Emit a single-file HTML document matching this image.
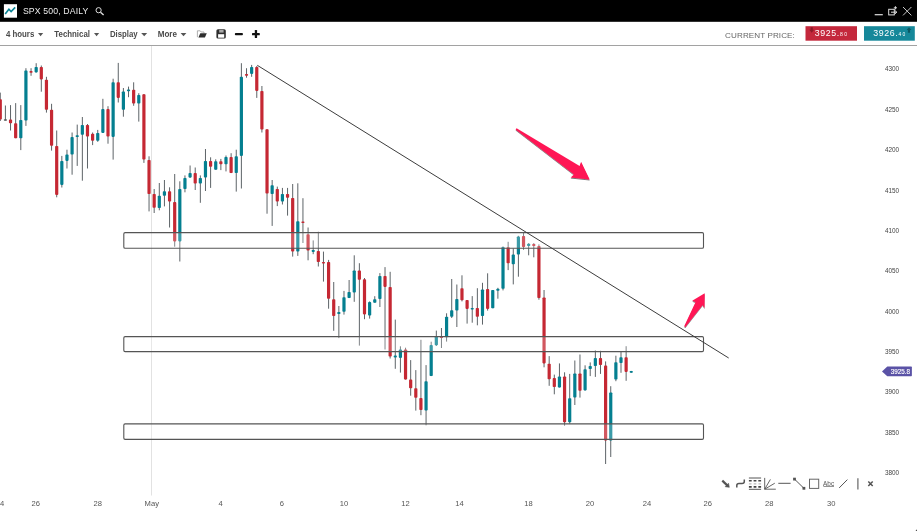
<!DOCTYPE html>
<html lang="en"><head><meta charset="utf-8"><title>SPX 500, DAILY</title>
<style>html,body{margin:0;padding:0;background:#fff;}body{width:917px;height:531px;overflow:hidden;font-family:"Liberation Sans",sans-serif;}svg{display:block;}text{font-family:"Liberation Sans",sans-serif;}</style></head><body>
<svg width="917" height="531" viewBox="0 0 917 531">
<defs><filter id="sh" x="-20%" y="-20%" width="140%" height="140%"><feDropShadow dx="0" dy="1" stdDeviation="0.5" flood-color="#000" flood-opacity="0.55"/></filter></defs>
<rect x="0" y="0" width="917" height="531" fill="#fff"/>
<rect x="151" y="46" width="1" height="449.5" fill="#e2e2e2"/>
<g>
<rect x="-0.23" y="92.6" width="1" height="28.4" fill="#5e6468"/>
<rect x="-1.33" y="99.2" width="3.2" height="20.4" rx="0.8" fill="#c52833"/>
<rect x="4.90" y="105.5" width="1" height="14.8" fill="#5e6468"/>
<rect x="3.80" y="119.3" width="3.2" height="1.4" rx="0.8" fill="#555"/>
<rect x="10.03" y="105.1" width="1" height="25.4" fill="#5e6468"/>
<rect x="8.93" y="119.6" width="3.2" height="3.7" rx="0.8" fill="#c52833"/>
<rect x="15.16" y="103.1" width="1" height="35.1" fill="#5e6468"/>
<rect x="14.06" y="123.3" width="3.2" height="14.9" rx="0.8" fill="#c52833"/>
<rect x="20.29" y="105.1" width="1" height="45.0" fill="#5e6468"/>
<rect x="19.19" y="120.0" width="3.2" height="18.2" rx="0.8" fill="#047f90"/>
<rect x="25.42" y="68.2" width="1" height="57.7" fill="#5e6468"/>
<rect x="24.32" y="70.6" width="3.2" height="50.0" rx="0.8" fill="#047f90"/>
<rect x="30.55" y="68.2" width="1" height="7.6" fill="#5e6468"/>
<rect x="29.45" y="71.1" width="3.2" height="1.7" rx="0.8" fill="#c52833"/>
<rect x="35.68" y="63.2" width="1" height="9.2" fill="#5e6468"/>
<rect x="34.58" y="66.9" width="3.2" height="5.5" rx="0.8" fill="#047f90"/>
<rect x="40.81" y="65.5" width="1" height="26.2" fill="#5e6468"/>
<rect x="39.71" y="66.9" width="3.2" height="12.5" rx="0.8" fill="#c52833"/>
<rect x="45.94" y="76.8" width="1" height="35.8" fill="#5e6468"/>
<rect x="44.84" y="79.8" width="3.2" height="30.0" rx="0.8" fill="#c52833"/>
<rect x="51.07" y="103.8" width="1" height="46.8" fill="#5e6468"/>
<rect x="49.97" y="109.7" width="3.2" height="36.0" rx="0.8" fill="#c52833"/>
<rect x="56.20" y="130.5" width="1" height="66.8" fill="#5e6468"/>
<rect x="55.10" y="146.0" width="3.2" height="48.9" rx="0.8" fill="#c52833"/>
<rect x="61.33" y="155.9" width="1" height="31.6" fill="#5e6468"/>
<rect x="60.23" y="160.9" width="3.2" height="24.0" rx="0.8" fill="#047f90"/>
<rect x="66.46" y="149.7" width="1" height="18.8" fill="#5e6468"/>
<rect x="65.36" y="154.6" width="3.2" height="6.3" rx="0.8" fill="#047f90"/>
<rect x="71.59" y="132.5" width="1" height="42.2" fill="#5e6468"/>
<rect x="70.49" y="137.1" width="3.2" height="17.5" rx="0.8" fill="#047f90"/>
<rect x="76.72" y="124.6" width="1" height="41.3" fill="#5e6468"/>
<rect x="75.62" y="135.2" width="3.2" height="1.9" rx="0.8" fill="#047f90"/>
<rect x="81.85" y="117.0" width="1" height="63.7" fill="#5e6468"/>
<rect x="80.75" y="125.0" width="3.2" height="9.8" rx="0.8" fill="#047f90"/>
<rect x="86.98" y="124.0" width="1" height="44.5" fill="#5e6468"/>
<rect x="85.88" y="125.0" width="3.2" height="11.5" rx="0.8" fill="#c52833"/>
<rect x="92.11" y="132.5" width="1" height="12.6" fill="#5e6468"/>
<rect x="91.01" y="133.8" width="3.2" height="7.0" rx="0.8" fill="#c52833"/>
<rect x="97.24" y="129.9" width="1" height="11.9" fill="#5e6468"/>
<rect x="96.14" y="132.9" width="3.2" height="7.9" rx="0.8" fill="#047f90"/>
<rect x="102.37" y="98.8" width="1" height="34.1" fill="#5e6468"/>
<rect x="101.27" y="109.1" width="3.2" height="23.8" rx="0.8" fill="#047f90"/>
<rect x="107.50" y="106.2" width="1" height="37.5" fill="#5e6468"/>
<rect x="106.40" y="109.1" width="3.2" height="27.4" rx="0.8" fill="#c52833"/>
<rect x="112.63" y="78.7" width="1" height="80.9" fill="#5e6468"/>
<rect x="111.53" y="82.3" width="3.2" height="54.6" rx="0.8" fill="#047f90"/>
<rect x="117.76" y="62.9" width="1" height="39.6" fill="#5e6468"/>
<rect x="116.66" y="82.3" width="3.2" height="15.6" rx="0.8" fill="#c52833"/>
<rect x="122.89" y="88.0" width="1" height="28.7" fill="#5e6468"/>
<rect x="121.79" y="91.5" width="3.2" height="18.2" rx="0.8" fill="#047f90"/>
<rect x="128.02" y="86.6" width="1" height="10.6" fill="#5e6468"/>
<rect x="126.92" y="89.5" width="3.2" height="1.8" rx="0.8" fill="#047f90"/>
<rect x="133.15" y="82.3" width="1" height="23.5" fill="#5e6468"/>
<rect x="132.05" y="89.7" width="3.2" height="13.8" rx="0.8" fill="#c52833"/>
<rect x="138.28" y="93.2" width="1" height="28.4" fill="#5e6468"/>
<rect x="137.18" y="95.0" width="3.2" height="8.5" rx="0.8" fill="#047f90"/>
<rect x="143.41" y="94.0" width="1" height="68.9" fill="#5e6468"/>
<rect x="142.31" y="94.3" width="3.2" height="65.3" rx="0.8" fill="#c52833"/>
<rect x="148.54" y="156.3" width="1" height="55.1" fill="#5e6468"/>
<rect x="147.44" y="160.0" width="3.2" height="34.0" rx="0.8" fill="#c52833"/>
<rect x="153.67" y="189.0" width="1" height="24.0" fill="#5e6468"/>
<rect x="152.57" y="194.0" width="3.2" height="13.7" rx="0.8" fill="#c52833"/>
<rect x="158.80" y="183.0" width="1" height="27.3" fill="#5e6468"/>
<rect x="157.70" y="195.8" width="3.2" height="12.3" rx="0.8" fill="#047f90"/>
<rect x="163.93" y="180.0" width="1" height="26.4" fill="#5e6468"/>
<rect x="162.83" y="191.2" width="3.2" height="4.6" rx="0.8" fill="#047f90"/>
<rect x="169.06" y="187.3" width="1" height="40.2" fill="#5e6468"/>
<rect x="167.96" y="191.2" width="3.2" height="10.3" rx="0.8" fill="#c52833"/>
<rect x="174.19" y="174.0" width="1" height="72.7" fill="#5e6468"/>
<rect x="173.09" y="202.1" width="3.2" height="39.3" rx="0.8" fill="#c52833"/>
<rect x="179.32" y="181.3" width="1" height="80.2" fill="#5e6468"/>
<rect x="178.22" y="189.0" width="3.2" height="52.4" rx="0.8" fill="#047f90"/>
<rect x="184.45" y="175.4" width="1" height="16.9" fill="#5e6468"/>
<rect x="183.35" y="178.0" width="3.2" height="11.0" rx="0.8" fill="#047f90"/>
<rect x="189.58" y="165.5" width="1" height="12.5" fill="#5e6468"/>
<rect x="188.48" y="173.1" width="3.2" height="4.5" rx="0.8" fill="#047f90"/>
<rect x="194.71" y="167.5" width="1" height="22.5" fill="#5e6468"/>
<rect x="193.61" y="173.1" width="3.2" height="10.5" rx="0.8" fill="#c52833"/>
<rect x="199.84" y="175.4" width="1" height="27.4" fill="#5e6468"/>
<rect x="198.74" y="178.0" width="3.2" height="5.6" rx="0.8" fill="#047f90"/>
<rect x="204.97" y="149.0" width="1" height="42.0" fill="#5e6468"/>
<rect x="203.87" y="160.9" width="3.2" height="16.7" rx="0.8" fill="#047f90"/>
<rect x="210.10" y="157.3" width="1" height="30.6" fill="#5e6468"/>
<rect x="209.00" y="160.9" width="3.2" height="5.9" rx="0.8" fill="#c52833"/>
<rect x="215.23" y="159.3" width="1" height="10.4" fill="#5e6468"/>
<rect x="214.13" y="161.3" width="3.2" height="8.4" rx="0.8" fill="#047f90"/>
<rect x="220.36" y="158.9" width="1" height="11.2" fill="#5e6468"/>
<rect x="219.26" y="161.3" width="3.2" height="2.9" rx="0.8" fill="#c52833"/>
<rect x="225.49" y="155.5" width="1" height="15.9" fill="#5e6468"/>
<rect x="224.39" y="156.9" width="3.2" height="7.3" rx="0.8" fill="#047f90"/>
<rect x="230.62" y="153.2" width="1" height="19.9" fill="#5e6468"/>
<rect x="229.52" y="156.9" width="3.2" height="16.2" rx="0.8" fill="#c52833"/>
<rect x="235.75" y="149.7" width="1" height="41.9" fill="#5e6468"/>
<rect x="234.65" y="156.3" width="3.2" height="16.8" rx="0.8" fill="#047f90"/>
<rect x="240.88" y="63.2" width="1" height="125.3" fill="#5e6468"/>
<rect x="239.78" y="76.8" width="3.2" height="79.1" rx="0.8" fill="#047f90"/>
<rect x="246.01" y="68.2" width="1" height="9.5" fill="#5e6468"/>
<rect x="244.91" y="74.1" width="3.2" height="1.7" rx="0.8" fill="#c52833"/>
<rect x="251.14" y="64.9" width="1" height="11.9" fill="#5e6468"/>
<rect x="250.04" y="66.9" width="3.2" height="7.0" rx="0.8" fill="#047f90"/>
<rect x="256.27" y="66.0" width="1" height="31.9" fill="#5e6468"/>
<rect x="255.17" y="66.9" width="3.2" height="24.0" rx="0.8" fill="#c52833"/>
<rect x="261.40" y="86.0" width="1" height="46.5" fill="#5e6468"/>
<rect x="260.30" y="90.9" width="3.2" height="38.6" rx="0.8" fill="#c52833"/>
<rect x="266.53" y="129.2" width="1" height="84.5" fill="#5e6468"/>
<rect x="265.43" y="129.2" width="3.2" height="64.4" rx="0.8" fill="#c52833"/>
<rect x="271.66" y="180.0" width="1" height="45.9" fill="#5e6468"/>
<rect x="270.56" y="185.3" width="3.2" height="8.7" rx="0.8" fill="#047f90"/>
<rect x="276.79" y="186.6" width="1" height="19.5" fill="#5e6468"/>
<rect x="275.69" y="189.0" width="3.2" height="12.5" rx="0.8" fill="#c52833"/>
<rect x="281.92" y="187.9" width="1" height="16.6" fill="#5e6468"/>
<rect x="280.82" y="194.0" width="3.2" height="7.5" rx="0.8" fill="#047f90"/>
<rect x="287.05" y="187.9" width="1" height="27.7" fill="#5e6468"/>
<rect x="285.95" y="194.0" width="3.2" height="3.8" rx="0.8" fill="#c52833"/>
<rect x="292.18" y="184.0" width="1" height="72.6" fill="#5e6468"/>
<rect x="291.08" y="197.9" width="3.2" height="53.7" rx="0.8" fill="#c52833"/>
<rect x="297.31" y="183.3" width="1" height="72.6" fill="#5e6468"/>
<rect x="296.21" y="221.3" width="3.2" height="30.3" rx="0.8" fill="#047f90"/>
<rect x="302.44" y="198.2" width="1" height="44.8" fill="#5e6468"/>
<rect x="301.34" y="221.5" width="3.2" height="1.4" rx="0.8" fill="#c52833"/>
<rect x="307.57" y="227.5" width="1" height="32.8" fill="#5e6468"/>
<rect x="306.47" y="234.2" width="3.2" height="16.3" rx="0.8" fill="#c52833"/>
<rect x="312.70" y="240.4" width="1" height="13.8" fill="#5e6468"/>
<rect x="311.60" y="250.0" width="3.2" height="1.9" rx="0.8" fill="#047f90"/>
<rect x="317.83" y="231.8" width="1" height="34.7" fill="#5e6468"/>
<rect x="316.73" y="250.9" width="3.2" height="11.2" rx="0.8" fill="#c52833"/>
<rect x="322.96" y="251.6" width="1" height="30.0" fill="#5e6468"/>
<rect x="321.86" y="261.9" width="3.2" height="1.7" rx="0.8" fill="#c52833"/>
<rect x="328.09" y="259.9" width="1" height="48.8" fill="#5e6468"/>
<rect x="326.99" y="261.9" width="3.2" height="36.9" rx="0.8" fill="#c52833"/>
<rect x="333.22" y="282.0" width="1" height="48.8" fill="#5e6468"/>
<rect x="332.12" y="299.2" width="3.2" height="16.8" rx="0.8" fill="#c52833"/>
<rect x="338.35" y="306.0" width="1" height="32.1" fill="#5e6468"/>
<rect x="337.25" y="312.0" width="3.2" height="2.0" rx="0.8" fill="#047f90"/>
<rect x="343.48" y="290.9" width="1" height="23.7" fill="#5e6468"/>
<rect x="342.38" y="297.2" width="3.2" height="14.5" rx="0.8" fill="#047f90"/>
<rect x="348.61" y="280.0" width="1" height="18.1" fill="#5e6468"/>
<rect x="347.51" y="291.9" width="3.2" height="6.2" rx="0.8" fill="#047f90"/>
<rect x="353.74" y="255.3" width="1" height="46.5" fill="#5e6468"/>
<rect x="352.64" y="270.4" width="3.2" height="22.1" rx="0.8" fill="#047f90"/>
<rect x="358.87" y="263.2" width="1" height="82.4" fill="#5e6468"/>
<rect x="357.77" y="270.4" width="3.2" height="9.3" rx="0.8" fill="#c52833"/>
<rect x="364.00" y="278.0" width="1" height="41.2" fill="#5e6468"/>
<rect x="362.90" y="279.3" width="3.2" height="35.1" rx="0.8" fill="#c52833"/>
<rect x="369.13" y="301.4" width="1" height="17.2" fill="#5e6468"/>
<rect x="368.03" y="302.1" width="3.2" height="13.4" rx="0.8" fill="#047f90"/>
<rect x="374.26" y="296.2" width="1" height="6.5" fill="#5e6468"/>
<rect x="373.16" y="299.2" width="3.2" height="3.5" rx="0.8" fill="#047f90"/>
<rect x="379.39" y="273.1" width="1" height="33.9" fill="#5e6468"/>
<rect x="378.29" y="276.0" width="3.2" height="23.0" rx="0.8" fill="#047f90"/>
<rect x="384.52" y="267.1" width="1" height="82.4" fill="#5e6468"/>
<rect x="383.42" y="276.0" width="3.2" height="10.9" rx="0.8" fill="#c52833"/>
<rect x="389.65" y="271.8" width="1" height="86.7" fill="#5e6468"/>
<rect x="388.55" y="286.9" width="3.2" height="69.6" rx="0.8" fill="#c52833"/>
<rect x="394.78" y="319.6" width="1" height="49.2" fill="#5e6468"/>
<rect x="393.68" y="355.6" width="3.2" height="1.9" rx="0.8" fill="#047f90"/>
<rect x="399.91" y="346.3" width="1" height="26.3" fill="#5e6468"/>
<rect x="398.81" y="349.5" width="3.2" height="8.4" rx="0.8" fill="#047f90"/>
<rect x="405.04" y="347.7" width="1" height="31.9" fill="#5e6468"/>
<rect x="403.94" y="349.5" width="3.2" height="30.1" rx="0.8" fill="#c52833"/>
<rect x="410.17" y="360.1" width="1" height="35.6" fill="#5e6468"/>
<rect x="409.07" y="379.6" width="3.2" height="8.6" rx="0.8" fill="#c52833"/>
<rect x="415.30" y="370.1" width="1" height="40.5" fill="#5e6468"/>
<rect x="414.20" y="388.2" width="3.2" height="9.5" rx="0.8" fill="#c52833"/>
<rect x="420.43" y="339.8" width="1" height="75.4" fill="#5e6468"/>
<rect x="419.33" y="398.1" width="3.2" height="11.9" rx="0.8" fill="#c52833"/>
<rect x="425.56" y="365.1" width="1" height="60.2" fill="#5e6468"/>
<rect x="424.46" y="381.3" width="3.2" height="29.3" rx="0.8" fill="#047f90"/>
<rect x="430.69" y="341.7" width="1" height="34.4" fill="#5e6468"/>
<rect x="429.59" y="345.1" width="3.2" height="31.0" rx="0.8" fill="#047f90"/>
<rect x="435.82" y="330.6" width="1" height="15.4" fill="#5e6468"/>
<rect x="434.72" y="336.4" width="3.2" height="8.8" rx="0.8" fill="#047f90"/>
<rect x="440.95" y="328.0" width="1" height="20.0" fill="#5e6468"/>
<rect x="439.85" y="336.5" width="3.2" height="1.4" rx="0.8" fill="#c52833"/>
<rect x="446.08" y="313.3" width="1" height="28.3" fill="#5e6468"/>
<rect x="444.98" y="316.8" width="3.2" height="20.5" rx="0.8" fill="#047f90"/>
<rect x="451.21" y="279.0" width="1" height="39.0" fill="#5e6468"/>
<rect x="450.11" y="310.2" width="3.2" height="6.6" rx="0.8" fill="#047f90"/>
<rect x="456.34" y="284.5" width="1" height="42.5" fill="#5e6468"/>
<rect x="455.24" y="299.0" width="3.2" height="11.6" rx="0.8" fill="#047f90"/>
<rect x="461.47" y="275.3" width="1" height="26.1" fill="#5e6468"/>
<rect x="460.37" y="288.2" width="3.2" height="12.1" rx="0.8" fill="#c52833"/>
<rect x="466.60" y="300.1" width="1" height="23.5" fill="#5e6468"/>
<rect x="465.50" y="300.1" width="3.2" height="8.8" rx="0.8" fill="#c52833"/>
<rect x="471.73" y="296.1" width="1" height="26.6" fill="#5e6468"/>
<rect x="470.63" y="308.0" width="3.2" height="1.6" rx="0.8" fill="#047f90"/>
<rect x="476.86" y="288.2" width="1" height="37.1" fill="#5e6468"/>
<rect x="475.76" y="308.0" width="3.2" height="8.7" rx="0.8" fill="#c52833"/>
<rect x="481.99" y="282.8" width="1" height="41.8" fill="#5e6468"/>
<rect x="480.89" y="289.5" width="3.2" height="26.5" rx="0.8" fill="#047f90"/>
<rect x="487.12" y="273.3" width="1" height="37.3" fill="#5e6468"/>
<rect x="486.02" y="289.1" width="3.2" height="19.8" rx="0.8" fill="#c52833"/>
<rect x="492.25" y="290.0" width="1" height="18.2" fill="#5e6468"/>
<rect x="491.15" y="290.0" width="3.2" height="18.2" rx="0.8" fill="#047f90"/>
<rect x="497.38" y="287.8" width="1" height="10.9" fill="#5e6468"/>
<rect x="496.28" y="288.7" width="3.2" height="2.0" rx="0.8" fill="#047f90"/>
<rect x="502.51" y="246.4" width="1" height="44.0" fill="#5e6468"/>
<rect x="501.41" y="247.0" width="3.2" height="41.7" rx="0.8" fill="#047f90"/>
<rect x="507.64" y="241.8" width="1" height="28.3" fill="#5e6468"/>
<rect x="506.54" y="247.3" width="3.2" height="16.0" rx="0.8" fill="#c52833"/>
<rect x="512.77" y="248.4" width="1" height="36.0" fill="#5e6468"/>
<rect x="511.67" y="254.6" width="3.2" height="9.6" rx="0.8" fill="#047f90"/>
<rect x="517.90" y="235.8" width="1" height="40.9" fill="#5e6468"/>
<rect x="516.80" y="236.5" width="3.2" height="18.1" rx="0.8" fill="#047f90"/>
<rect x="523.03" y="232.5" width="1" height="17.2" fill="#5e6468"/>
<rect x="521.93" y="236.1" width="3.2" height="10.9" rx="0.8" fill="#c52833"/>
<rect x="528.16" y="243.1" width="1" height="12.2" fill="#5e6468"/>
<rect x="527.06" y="243.7" width="3.2" height="2.4" rx="0.8" fill="#047f90"/>
<rect x="533.29" y="243.1" width="1" height="14.2" fill="#5e6468"/>
<rect x="532.19" y="244.0" width="3.2" height="2.0" rx="0.8" fill="#c52833"/>
<rect x="538.42" y="244.4" width="1" height="55.3" fill="#5e6468"/>
<rect x="537.32" y="246.1" width="3.2" height="51.9" rx="0.8" fill="#c52833"/>
<rect x="543.55" y="290.0" width="1" height="77.3" fill="#5e6468"/>
<rect x="542.45" y="297.4" width="3.2" height="66.0" rx="0.8" fill="#c52833"/>
<rect x="548.68" y="356.1" width="1" height="29.7" fill="#5e6468"/>
<rect x="547.58" y="363.7" width="3.2" height="15.5" rx="0.8" fill="#c52833"/>
<rect x="553.81" y="374.6" width="1" height="19.7" fill="#5e6468"/>
<rect x="552.71" y="377.9" width="3.2" height="9.2" rx="0.8" fill="#c52833"/>
<rect x="558.94" y="363.4" width="1" height="24.1" fill="#5e6468"/>
<rect x="557.84" y="376.5" width="3.2" height="11.0" rx="0.8" fill="#047f90"/>
<rect x="564.07" y="372.3" width="1" height="53.4" fill="#5e6468"/>
<rect x="562.97" y="376.5" width="3.2" height="45.7" rx="0.8" fill="#c52833"/>
<rect x="569.20" y="373.9" width="1" height="49.8" fill="#5e6468"/>
<rect x="568.10" y="398.3" width="3.2" height="23.9" rx="0.8" fill="#047f90"/>
<rect x="574.33" y="360.5" width="1" height="44.5" fill="#5e6468"/>
<rect x="573.23" y="373.5" width="3.2" height="24.1" rx="0.8" fill="#047f90"/>
<rect x="579.46" y="354.5" width="1" height="43.1" fill="#5e6468"/>
<rect x="578.36" y="373.5" width="3.2" height="17.2" rx="0.8" fill="#c52833"/>
<rect x="584.59" y="365.3" width="1" height="25.1" fill="#5e6468"/>
<rect x="583.49" y="369.3" width="3.2" height="21.1" rx="0.8" fill="#047f90"/>
<rect x="589.72" y="362.4" width="1" height="13.7" fill="#5e6468"/>
<rect x="588.62" y="366.0" width="3.2" height="3.0" rx="0.8" fill="#047f90"/>
<rect x="594.85" y="350.4" width="1" height="26.5" fill="#5e6468"/>
<rect x="593.75" y="358.1" width="3.2" height="7.9" rx="0.8" fill="#047f90"/>
<rect x="599.98" y="350.8" width="1" height="23.1" fill="#5e6468"/>
<rect x="598.88" y="358.1" width="3.2" height="7.0" rx="0.8" fill="#c52833"/>
<rect x="605.11" y="361.4" width="1" height="102.6" fill="#5e6468"/>
<rect x="604.01" y="365.6" width="3.2" height="75.0" rx="0.8" fill="#c52833"/>
<rect x="610.24" y="386.2" width="1" height="70.8" fill="#5e6468"/>
<rect x="609.14" y="392.4" width="3.2" height="48.2" rx="0.8" fill="#047f90"/>
<rect x="615.37" y="355.7" width="1" height="25.5" fill="#5e6468"/>
<rect x="614.27" y="362.3" width="3.2" height="17.3" rx="0.8" fill="#047f90"/>
<rect x="620.50" y="351.5" width="1" height="21.3" fill="#5e6468"/>
<rect x="619.40" y="357.2" width="3.2" height="5.8" rx="0.8" fill="#047f90"/>
<rect x="625.63" y="346.2" width="1" height="34.6" fill="#5e6468"/>
<rect x="624.53" y="357.2" width="3.2" height="14.7" rx="0.8" fill="#c52833"/>
<rect x="630.76" y="370.9" width="1" height="1.9" fill="#5e6468"/>
<rect x="629.66" y="370.9" width="3.2" height="1.9" rx="0.8" fill="#047f90"/>
</g>
<rect x="123.8" y="232.6" width="579.7" height="15.7" rx="1.3" fill="#fff" fill-opacity="0.22" stroke="#555" stroke-width="1.1"/>
<rect x="123.8" y="336.6" width="579.7" height="15.0" rx="1.3" fill="#fff" fill-opacity="0.22" stroke="#555" stroke-width="1.1"/>
<rect x="123.8" y="423.9" width="579.7" height="15.5" rx="1.3" fill="#fff" fill-opacity="0.22" stroke="#555" stroke-width="1.1"/>
<line x1="257.3" y1="65.3" x2="728.7" y2="358" stroke="#3c3c3c" stroke-width="1"/>
<g filter="url(#sh)" fill="#ff1654">
<polygon points="516.6,128.2 579.6,165.9 581.1,161.8 589.7,179.4 570.6,177.4 574,174.6 515.6,129.4"/>
<polygon points="684.2,326.2 695.6,301.9 692.2,300.7 704.7,293.2 704.5,308 702.6,305 685.4,326.9"/>
</g>
<text x="892" y="71.4" font-size="6.4" fill="#444" text-anchor="middle">4300</text>
<text x="892" y="111.8" font-size="6.4" fill="#444" text-anchor="middle">4250</text>
<text x="892" y="152.1" font-size="6.4" fill="#444" text-anchor="middle">4200</text>
<text x="892" y="192.5" font-size="6.4" fill="#444" text-anchor="middle">4150</text>
<text x="892" y="232.8" font-size="6.4" fill="#444" text-anchor="middle">4100</text>
<text x="892" y="273.2" font-size="6.4" fill="#444" text-anchor="middle">4050</text>
<text x="892" y="313.5" font-size="6.4" fill="#444" text-anchor="middle">4000</text>
<text x="892" y="353.9" font-size="6.4" fill="#444" text-anchor="middle">3950</text>
<text x="892" y="394.2" font-size="6.4" fill="#444" text-anchor="middle">3900</text>
<text x="892" y="434.6" font-size="6.4" fill="#444" text-anchor="middle">3850</text>
<text x="892" y="474.9" font-size="6.4" fill="#444" text-anchor="middle">3800</text>
<path d="M882 371.4 L887.3 366.6 H911.2 Q911.9 366.6 911.9 367.3 V375.6 Q911.9 376.3 911.2 376.3 H887.3 Z" fill="#5a52a6"/>
<text x="900.4" y="373.7" font-size="6.3" fill="#fff" text-anchor="middle" stroke="#fff" stroke-width="0.15">3925.8</text>
<text x="0" y="505.5" font-size="7.6" fill="#555" text-anchor="middle">24</text>
<text x="35.7" y="505.5" font-size="7.6" fill="#555" text-anchor="middle">26</text>
<text x="97.8" y="505.5" font-size="7.6" fill="#555" text-anchor="middle">28</text>
<text x="151.8" y="505.5" font-size="7.6" fill="#555" text-anchor="middle">May</text>
<text x="220.7" y="505.5" font-size="7.6" fill="#555" text-anchor="middle">4</text>
<text x="281.9" y="505.5" font-size="7.6" fill="#555" text-anchor="middle">6</text>
<text x="344.1" y="505.5" font-size="7.6" fill="#555" text-anchor="middle">10</text>
<text x="405.6" y="505.5" font-size="7.6" fill="#555" text-anchor="middle">12</text>
<text x="459.5" y="505.5" font-size="7.6" fill="#555" text-anchor="middle">14</text>
<text x="528.5" y="505.5" font-size="7.6" fill="#555" text-anchor="middle">18</text>
<text x="589.9" y="505.5" font-size="7.6" fill="#555" text-anchor="middle">20</text>
<text x="646.9" y="505.5" font-size="7.6" fill="#555" text-anchor="middle">24</text>
<text x="707.8" y="505.5" font-size="7.6" fill="#555" text-anchor="middle">26</text>
<text x="769.3" y="505.5" font-size="7.6" fill="#555" text-anchor="middle">28</text>
<text x="831.3" y="505.5" font-size="7.6" fill="#555" text-anchor="middle">30</text>
<g stroke="#555" fill="none" stroke-width="1">
<path d="M722.3 480.6 L727.5 485.6" stroke-width="2.2"/><path d="M729.3 487.3 L725.2 486.7 L728.5 483.3 Z" fill="#555" stroke-width="0.6"/>
<path d="M736.8 487.6 V485.4 Q736.8 483.4 739 483.4 H742 Q744.3 483.4 744.3 481.4 V479.4" stroke-width="1.5"/>
<path d="M748.9 478 H761.1 M748.9 489.3 H761.1" stroke-width="1"/>
<path d="M748.9 480.7 H761.1 M748.9 486.9 H761.1" stroke="#444" stroke-width="1.6" stroke-dasharray="2.8 1.9"/>
<path d="M748.9 483.8 H761.1" stroke="#bbb" stroke-width="1.3" stroke-dasharray="2.6 2.2"/>
<path d="M764.7 477.9 V489.2 H775.8 M764.7 489.2 L770.4 479.4 M764.7 489.2 L774.8 483.2" stroke-width="0.9"/>
<path d="M778.3 483.3 H790.6"/>
<path d="M794.6 479.2 L803.8 488.2"/><rect x="793.1" y="477.7" width="2.8" height="2.8" fill="#555" stroke="none"/><rect x="802.5" y="486.9" width="2.8" height="2.8" fill="#555" stroke="none"/>
<rect x="809.5" y="479.2" width="9.2" height="9.2" stroke="#666"/>
<path d="M839.2 487.9 L847.4 479.6"/>
<path d="M857.9 478.3 V489.6" stroke="#666" stroke-width="1.2"/>
<path d="M868.3 481.5 L872.7 486 M872.7 481.5 L868.3 486" stroke-width="1.5"/>
</g>
<text x="828.6" y="485.6" font-size="6.4" fill="#555" text-anchor="middle">Abc</text>
<rect x="823.4" y="486.2" width="10.6" height="0.7" fill="#666"/>
<rect x="0" y="0" width="917" height="21.8" fill="#000"/>
<rect x="3.9" y="4.2" width="13.1" height="13.5" fill="#fff"/>
<path d="M5.2 13.9 L8.9 9.2 L11.1 11.5 L15.2 7.4" fill="none" stroke="#0a8496" stroke-width="1.6"/>
<text x="22.9" y="13.8" font-size="8.7" fill="#ececec" textLength="65.5" lengthAdjust="spacing">SPX 500, DAILY</text>
<circle cx="98.6" cy="10.2" r="2.6" fill="none" stroke="#ddd" stroke-width="1"/><path d="M100.5 12.2 L103.6 15" stroke="#ddd" stroke-width="1.4"/>
<rect x="874.7" y="14.1" width="8.1" height="1.2" fill="#ddd"/>
<g stroke="#ddd" fill="none" stroke-width="1"><rect x="888.7" y="9.3" width="5.6" height="5.6"/><path d="M891 12.2 H896.8 M894.8 10.4 L896.8 12.2 L894.8 14"/><path d="M895.4 6.2 V9.4 M893.8 7.8 H897"/></g>
<path d="M903 7 L911.4 15.4 M911.4 7 L903 15.4" stroke="#dcdcdc" stroke-width="0.9" fill="none"/>
<rect x="0" y="45" width="917" height="1" fill="#a2a2a2"/>
<text x="5.9" y="36.9" font-size="8.2" font-weight="bold" fill="#4a4a4a" textLength="28.4" lengthAdjust="spacingAndGlyphs">4 hours</text>
<polygon points="38,33 43.2,33 40.6,36.2" fill="#555"/>
<text x="54.3" y="36.9" font-size="8.2" font-weight="bold" fill="#4a4a4a" textLength="35.7" lengthAdjust="spacingAndGlyphs">Technical</text>
<polygon points="94,33 99.2,33 96.6,36.2" fill="#555"/>
<text x="110" y="36.9" font-size="8.2" font-weight="bold" fill="#4a4a4a" textLength="27.7" lengthAdjust="spacingAndGlyphs">Display</text>
<polygon points="141.2,33 147.2,33 144.2,36.2" fill="#555"/>
<text x="157.7" y="36.9" font-size="8.2" font-weight="bold" fill="#4a4a4a" textLength="19.3" lengthAdjust="spacingAndGlyphs">More</text>
<polygon points="180.6,33 186.4,33 183.5,36.2" fill="#555"/>
<path d="M197.4 37.2 V30.8 H200.2 L201.2 32 H204 V33.3" fill="#fff" stroke="#9a9a9a" stroke-width="0.8"/>
<path d="M200.3 33.3 H206.8 L204.9 37.6 H198.4 Z" fill="#2e2e2e"/>
<rect x="216.4" y="29.2" width="9.4" height="9.4" rx="1.6" fill="#2e2e2e"/><rect x="219.2" y="29.9" width="4.4" height="2.7" fill="#a8a8a8"/><rect x="218.1" y="34.2" width="6.1" height="3.5" fill="#fff"/>
<rect x="234.9" y="32.9" width="8" height="2.3" rx="0.8" fill="#111"/>
<rect x="252" y="33" width="7.8" height="2.3" rx="0.6" fill="#111"/><rect x="254.8" y="30" width="2.3" height="8.1" rx="0.6" fill="#111"/>
<text x="725.1" y="37.6" font-size="8.1" fill="#666" textLength="69.7" lengthAdjust="spacing">CURRENT PRICE:</text>
<rect x="805.5" y="26.2" width="51.5" height="14.5" fill="#c4283c"/>
<rect x="864" y="26.2" width="50.8" height="14.5" fill="#16889a"/>
<text x="814.7" y="36" font-size="8.8" fill="#fff" textLength="24.4" lengthAdjust="spacing">3925.</text><text x="840" y="36" font-size="5" fill="#fff" textLength="7" lengthAdjust="spacing">80</text>
<text x="873.3" y="36" font-size="8.8" fill="#fff" textLength="24.4" lengthAdjust="spacing">3926.</text><text x="898.4" y="36" font-size="5" fill="#fff" textLength="7" lengthAdjust="spacing">40</text>
<path d="M810.6 27.2 H812.8 V29.8 H814.1 L811.7 32.7 L809.3 29.8 H810.6 Z" fill="#8c1a28"/>
<path d="M907.9 32.7 H910.1 V30.1 H911.4 L909 27.2 L906.6 30.1 H907.9 Z" fill="#0c5964"/>
<polygon points="917,529.2 917,531 915.5,531" fill="#444"/>
</svg></body></html>
